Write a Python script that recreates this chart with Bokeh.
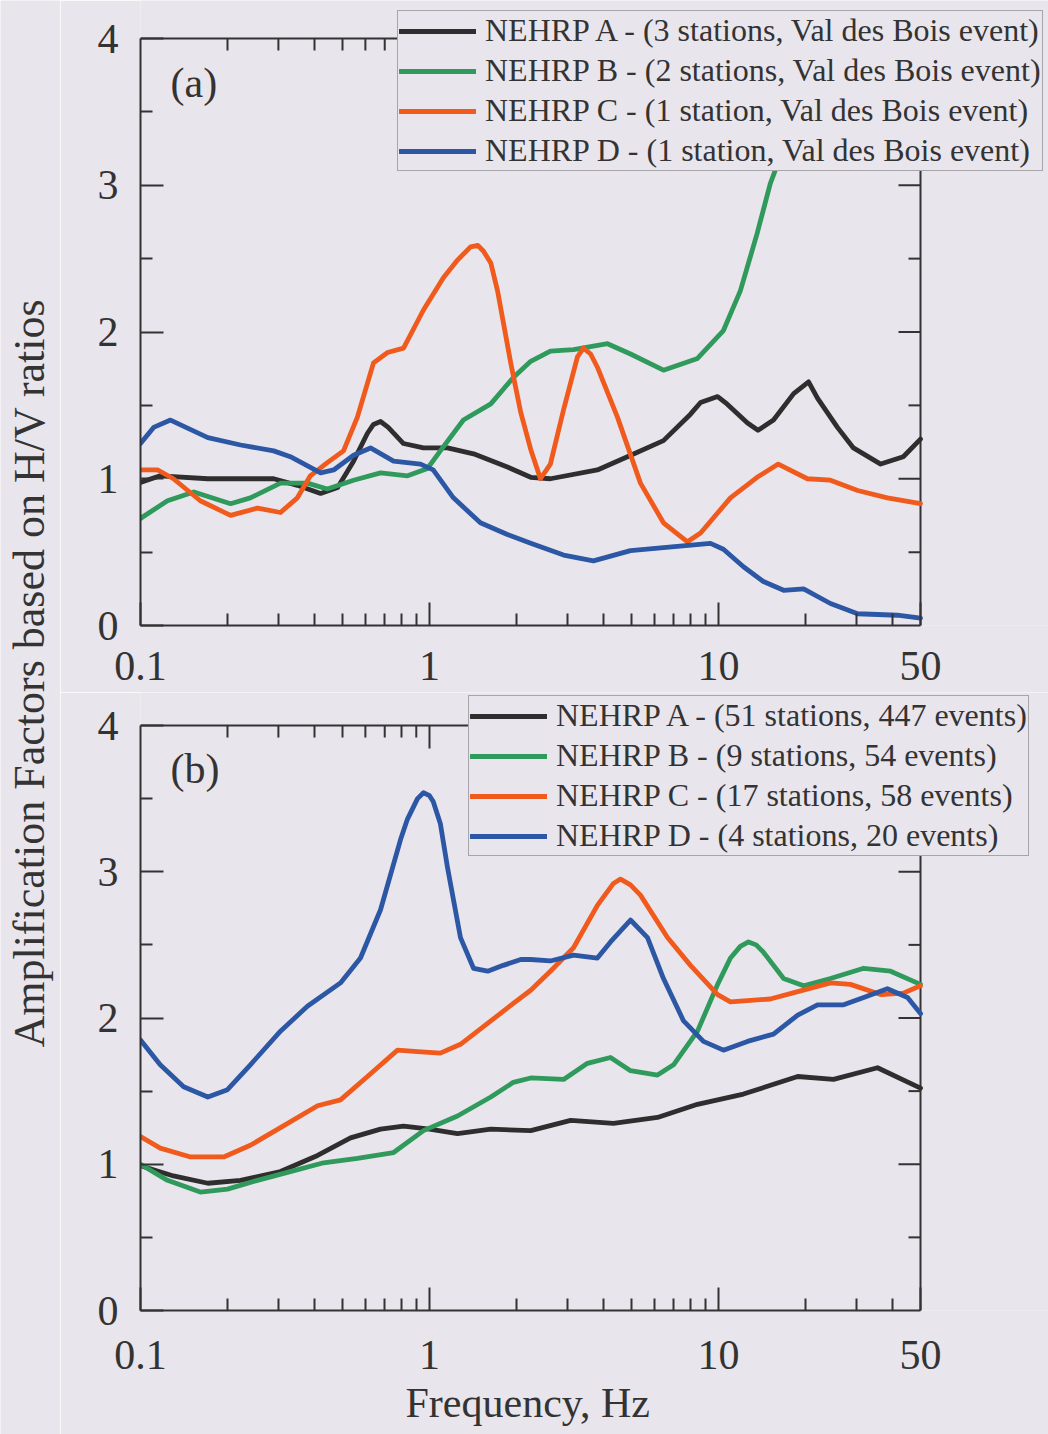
import math

from bokeh.plotting import figure
from bokeh.models import (Range1d, LinearAxis, LogAxis, FixedTicker, CustomJSTickFormatter,
                          Legend, LegendItem, Label, Title)
from bokeh.layouts import row, column
from bokeh.embed import file_html
from bokeh.resources import INLINE

# ---------------------------------------------------------------- data
# (a) Val des Bois event: frequency (Hz) and amplification factor per NEHRP class
val_A_hz = [0.1, 0.117, 0.171, 0.289, 0.349, 0.42, 0.481, 0.546, 0.61, 0.64, 0.677, 0.72, 0.813,
            0.953, 1.154, 1.42, 1.86, 2.24, 2.62, 3.81, 4.84, 6.45, 8.0, 8.67, 9.93, 10.7, 12.6,
            13.7, 15.5, 18.2, 20.5, 22.0, 25.8, 29.3, 36.4, 43.6, 50]
val_A_amp = [0.975, 1.02, 1.0, 1.0, 0.955, 0.90, 0.94, 1.12, 1.31, 1.37, 1.39, 1.35, 1.24,
             1.21, 1.21, 1.17, 1.08, 1.01, 1.0, 1.06, 1.15, 1.26, 1.44, 1.52, 1.56, 1.51, 1.38,
             1.33, 1.40, 1.58, 1.66, 1.55, 1.35, 1.21, 1.10, 1.15, 1.27]

val_B_hz = [0.1, 0.124, 0.153, 0.205, 0.240, 0.305, 0.378, 0.443, 0.546, 0.677, 0.840, 0.984, 1.09,
            1.31, 1.63, 1.95, 2.24, 2.62, 3.15, 4.13, 4.96, 6.45, 8.46, 10.4, 11.9, 13.6, 15.1, 15.7,
            17.5, 20]
val_B_amp = [0.73, 0.85, 0.91, 0.83, 0.87, 0.97, 0.97, 0.93, 0.99, 1.04, 1.02, 1.07, 1.19,
             1.40, 1.51, 1.69, 1.80, 1.87, 1.88, 1.92, 1.85, 1.74, 1.82, 2.01, 2.28, 2.67, 3.01, 3.10,
             3.6, 4.1]

val_C_hz = [0.1, 0.1145, 0.130, 0.161, 0.205, 0.254, 0.305, 0.349, 0.387, 0.443, 0.504, 0.563, 0.640,
            0.716, 0.813, 0.953, 1.117, 1.25, 1.387, 1.47, 1.538, 1.63, 1.72, 1.91, 2.07, 2.24, 2.42,
            2.62, 2.91, 3.25, 3.41, 3.61, 3.81, 4.47, 5.37, 6.45, 7.81, 8.67, 11.0, 13.6, 16.1, 20.3,
            24.4, 30.3, 38.4, 50]
val_C_amp = [1.06, 1.06, 1.0, 0.85, 0.75, 0.80, 0.77, 0.87, 1.02, 1.11, 1.19, 1.42, 1.79,
             1.86, 1.89, 2.15, 2.37, 2.49, 2.58, 2.59, 2.55, 2.47, 2.28, 1.79, 1.45, 1.2, 1.0,
             1.10, 1.47, 1.83, 1.89, 1.85, 1.76, 1.42, 0.97, 0.70, 0.57, 0.63, 0.87, 1.01, 1.10, 1.0,
             0.99, 0.92, 0.87, 0.83]

val_D_hz = [0.1, 0.111, 0.127, 0.171, 0.222, 0.289, 0.330, 0.420, 0.466, 0.546, 0.625, 0.751, 0.931,
            1.03, 1.21, 1.50, 1.86, 2.24, 2.91, 3.69, 4.96, 6.45, 9.38, 10.4, 12.2, 14.3, 16.8, 19.7,
            24.4, 30.3, 41.6, 50]
val_D_amp = [1.24, 1.35, 1.40, 1.28, 1.23, 1.19, 1.15, 1.04, 1.06, 1.16, 1.21, 1.12, 1.10,
             1.06, 0.87, 0.70, 0.62, 0.56, 0.48, 0.44, 0.51, 0.53, 0.56, 0.52, 0.40, 0.30, 0.24, 0.25,
             0.15, 0.08, 0.07, 0.05]

# (b) all recorded events
all_A_hz = [0.1, 0.130, 0.171, 0.222, 0.305, 0.410, 0.533, 0.677, 0.813, 1.0, 1.25, 1.63, 2.24,
            3.08, 4.33, 6.15, 8.46, 12.2, 18.8, 25.0, 35.5, 50]
all_A_amp = [0.99, 0.92, 0.87, 0.89, 0.95, 1.06, 1.18, 1.24, 1.26, 1.24, 1.21, 1.24, 1.23,
             1.30, 1.28, 1.32, 1.41, 1.48, 1.60, 1.58, 1.66, 1.52]

all_B_hz = [0.1, 0.124, 0.161, 0.200, 0.254, 0.330, 0.430, 0.563, 0.751, 0.953, 1.25, 1.63, 1.95,
            2.24, 2.91, 3.52, 4.23, 4.96, 6.15, 6.99, 8.46, 9.93, 11.0, 11.9, 12.7, 13.5, 14.3, 16.8,
            19.7, 24.4, 31.8, 39.4, 50]
all_B_amp = [1.0, 0.89, 0.81, 0.83, 0.89, 0.95, 1.01, 1.04, 1.08, 1.23, 1.33, 1.46, 1.56,
             1.59, 1.58, 1.69, 1.73, 1.64, 1.61, 1.68, 1.91, 2.23, 2.41, 2.49, 2.52, 2.50, 2.45, 2.27,
             2.22, 2.27, 2.34, 2.32, 2.23]

all_C_hz = [0.1, 0.117, 0.149, 0.194, 0.240, 0.305, 0.410, 0.492, 0.610, 0.775, 0.909, 1.09, 1.28,
            1.63, 1.95, 2.24, 2.62, 3.15, 3.81, 4.33, 4.58, 4.96, 5.37, 6.66, 8.0, 9.93, 11.0, 15.1,
            18.8, 24.4, 28.6, 36.4, 43.6, 50]
all_C_amp = [1.19, 1.11, 1.05, 1.05, 1.13, 1.25, 1.40, 1.44, 1.60, 1.78, 1.77, 1.76, 1.82,
             1.98, 2.10, 2.19, 2.32, 2.48, 2.77, 2.92, 2.95, 2.91, 2.84, 2.55, 2.36, 2.16, 2.11, 2.13,
             2.18, 2.24, 2.23, 2.16, 2.17, 2.22]

all_D_hz = [0.1, 0.117, 0.141, 0.171, 0.200, 0.240, 0.305, 0.378, 0.492, 0.577, 0.677, 0.794, 0.839,
            0.909, 0.953, 1.0, 1.03, 1.09, 1.154, 1.28, 1.42, 1.59, 1.80, 2.07, 2.24, 2.62, 3.15,
            3.81, 4.23, 4.96, 5.68, 6.45, 7.57, 8.87, 10.4, 12.6, 15.5, 18.8, 22.0, 27.1, 31.8, 38.4,
            45.1, 50]
all_D_amp = [1.85, 1.68, 1.53, 1.46, 1.51, 1.68, 1.91, 2.08, 2.24, 2.41, 2.74, 3.22, 3.36,
             3.50, 3.54, 3.52, 3.48, 3.33, 3.03, 2.55, 2.34, 2.32, 2.36, 2.40, 2.40, 2.39, 2.43,
             2.41, 2.52, 2.67, 2.55, 2.27, 1.98, 1.84, 1.78, 1.84, 1.89, 2.02, 2.09, 2.09, 2.14, 2.20,
             2.14, 2.03]

val_labels = ["NEHRP A - (3 stations, Val des Bois event)",
              "NEHRP B - (2 stations, Val des Bois event)",
              "NEHRP C - (1 station, Val des Bois event)",
              "NEHRP D - (1 station, Val des Bois event)"]
all_labels = ["NEHRP A - (51 stations, 447 events)",
              "NEHRP B - (9 stations, 54 events)",
              "NEHRP C - (17 stations, 58 events)",
              "NEHRP D - (4 stations, 20 events)"]

x_major = [0.1, 1, 10, 50]
x_minor = [0.2, 0.3, 0.4, 0.5, 0.6, 0.7, 0.8, 0.9, 2, 3, 4, 5, 6, 7, 8, 9, 20, 30, 40]
y_major = [0, 1, 2, 3, 4]
y_minor = [0.5, 1.5, 2.5, 3.5]
X_LO, X_HI = 0.1, 50
Y_LO, Y_HI = 0, 4

# ---------------------------------------------------------------- style / geometry
BG = "#e9e5ec"
INK = "#333333"
FONT = "Liberation Serif"
COLORS = ["#2e2e2e", "#2f9a5c", "#f05a1c", "#2c57a4"]

BOX_W = 780                                   # px between 0.1 Hz and 50 Hz
PX_PER_DECADE = BOX_W / math.log10(X_HI / X_LO)
FRAME_W = 908                                 # plot frame reaches the right page edge
X_END = X_LO * 10 ** (FRAME_W / PX_PER_DECADE)
MAJOR_LEN, MINOR_LEN = 23, 12


def style_axis(ax):
    ax.axis_line_color = INK
    ax.axis_line_width = 2
    ax.major_tick_line_color = INK
    ax.major_tick_line_width = 2
    ax.minor_tick_line_color = INK
    ax.minor_tick_line_width = 2
    ax.major_tick_out = 0
    ax.minor_tick_out = 0
    ax.major_tick_in = MAJOR_LEN
    ax.minor_tick_in = MINOR_LEN
    ax.major_label_text_font = FONT
    ax.major_label_text_color = INK
    ax.major_label_text_font_size = "42px"
    ax.formatter = CustomJSTickFormatter(code="return String(tick)")


def make_panel(height, border_bottom, box_top, series, labels, tag, legend_loc):
    frame_h = height - border_bottom
    box_h = frame_h - box_top
    px_per_unit = box_h / (Y_HI - Y_LO)
    y_end = Y_LO + frame_h / px_per_unit

    p = figure(width=988, height=height, x_axis_type="log",
               x_range=Range1d(X_LO, X_END), y_range=Range1d(Y_LO, y_end),
               output_backend="svg", toolbar_location=None,
               x_axis_location=None, y_axis_location=None,
               min_border_left=80, min_border_right=0,
               min_border_top=0, min_border_bottom=border_bottom,
               background_fill_color=BG, border_fill_color=BG,
               outline_line_color=None)
    p.grid.visible = False

    bottom_ax = LogAxis(ticker=FixedTicker(ticks=x_major, minor_ticks=x_minor),
                        bounds=(X_LO, X_HI))
    style_axis(bottom_ax)
    bottom_ax.major_label_standoff = 26
    p.add_layout(bottom_ax, "below")

    left_ax = LinearAxis(ticker=FixedTicker(ticks=y_major, minor_ticks=y_minor),
                         bounds=(Y_LO, Y_HI))
    style_axis(left_ax)
    left_ax.major_label_standoff = 22
    p.add_layout(left_ax, "left")

    # top and right edges of the box, with inward ticks
    p.segment(x0=[X_LO, X_HI], y0=[Y_HI, Y_LO], x1=[X_HI, X_HI], y1=[Y_HI, Y_HI],
              line_color=INK, line_width=2)
    top_x = x_major[1:-1] + x_minor
    top_len = [MAJOR_LEN] * (len(x_major) - 2) + [MINOR_LEN] * len(x_minor)
    p.segment(x0=top_x, y0=[Y_HI] * len(top_x), x1=top_x,
              y1=[Y_HI - L / px_per_unit for L in top_len], line_color=INK, line_width=2)
    right_y = y_major[1:-1] + y_minor
    right_len = [MAJOR_LEN - 1] * (len(y_major) - 2) + [MINOR_LEN] * len(y_minor)
    p.segment(x0=[X_HI] * len(right_y), y0=right_y,
              x1=[X_HI / 10 ** (L / PX_PER_DECADE) for L in right_len], y1=right_y,
              line_color=INK, line_width=2)

    items = []
    for (hz, amp), color, lab in zip(series, COLORS, labels):
        r = p.line(hz, amp, line_color=color, line_width=4.8,
                   line_join="round", line_cap="round")
        items.append(LegendItem(label=lab, renderers=[r]))

    legend = Legend(items=items, location=legend_loc, margin=0, padding=1, spacing=3,
                    glyph_width=77, glyph_height=34, label_height=34, label_standoff=9,
                    label_text_font=FONT, label_text_font_size="32px", label_text_color=INK,
                    border_line_color="#666666", border_line_width=1,
                    background_fill_color=BG, background_fill_alpha=1.0)
    p.add_layout(legend, "center")

    p.add_layout(Label(x=0.127, y=3.70, text=tag, text_font=FONT, text_font_size="42px",
                       text_color=INK, text_align="left", text_baseline="middle"))
    return p


# panel (a): frame from the page top down to its x axis at y = 625 px
panel_a = make_panel(
    692, 67, 38,
    [(val_A_hz, val_A_amp), (val_B_hz, val_B_amp), (val_C_hz, val_C_amp), (val_D_hz, val_D_amp)],
    val_labels, "(a)", (257, 454))

# panel (b): frame from y = 692 px, box top at 725 px, x axis at 1310 px
panel_b = make_panel(
    742, 124, 33,
    [(all_A_hz, all_A_amp), (all_B_hz, all_B_amp), (all_C_hz, all_C_amp), (all_D_hz, all_D_amp)],
    all_labels, "(b)", (328, 454))
panel_b.below[0].major_label_standoff = 30

# x-axis title, centred under the 0.1-50 Hz box rather than the wider frame
panel_b.add_layout(Title(text="Frequency, Hz", align="left", offset=265, standoff=12,
                         text_font=FONT, text_font_size="42px", text_font_style="normal",
                         text_color=INK), "below")

# shared vertical title spanning both panels
title_fig = figure(width=60, height=1434, x_range=Range1d(0, 1), y_range=Range1d(0, 1),
                   output_backend="svg", toolbar_location=None,
                   x_axis_location=None, y_axis_location=None, min_border=0,
                   background_fill_color=BG, border_fill_color=BG, outline_line_color=None)
title_fig.grid.visible = False
title_fig.add_layout(Label(x=0.483, y=0.531, text="Amplification Factors based on H/V ratios",
                           angle=1.5707963, text_font=FONT, text_font_size="44px",
                           text_color=INK, text_align="center", text_baseline="middle"))

layout = row(title_fig, column(panel_a, panel_b, spacing=0), spacing=0)

with open("out.html", "w") as f:
    f.write(file_html(layout, INLINE))
